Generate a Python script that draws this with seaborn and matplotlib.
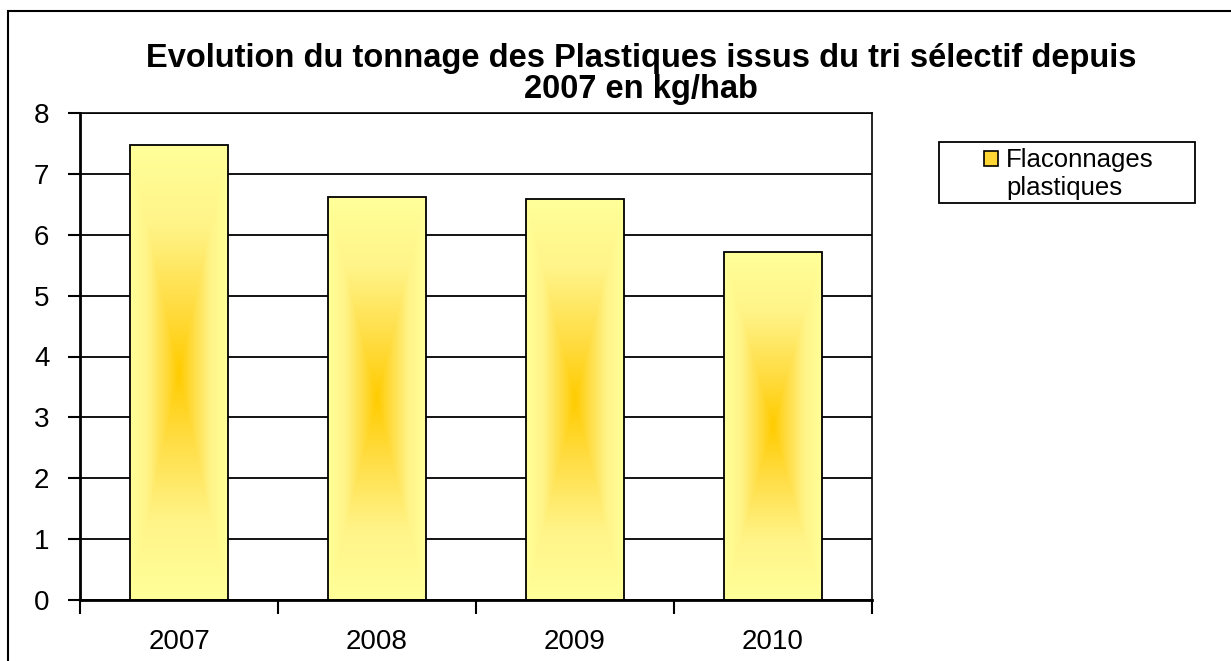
import numpy as np
import pandas as pd
import matplotlib
matplotlib.use("Agg")
import matplotlib.pyplot as plt
import seaborn as sns
from matplotlib.colors import LinearSegmentedColormap
from matplotlib.patches import Rectangle

years = ["2007", "2008", "2009", "2010"]
values = [7.47, 6.62, 6.58, 5.72]
legend_lines = ["Flaconnages", "plastiques"]
title = "Evolution du tonnage des Plastiques issus du tri sélectif depuis\n2007 en kg/hab"

sns.set_theme(style="white")
plt.rcParams['font.family'] = ['Liberation Sans', 'DejaVu Sans']
plt.rcParams['text.color'] = 'black'

W, H = 1231, 661
fig = plt.figure(figsize=(W / 100, H / 100), dpi=100)
ax = fig.add_axes([80 / W, 1 - 600 / H, (872 - 80) / W, (600 - 113) / H])

df = pd.DataFrame({"year": years, "value": values})
sns.barplot(data=df, x="year", y="value", ax=ax, width=0.49,
            color="#FFFF99", edgecolor="black", linewidth=1.3, zorder=3)

ax.set_ylim(0, 8)
ax.set_xlim(-0.5, 3.5)
ax.set_yticks(range(0, 9))
ax.set_xlabel("")
ax.set_ylabel("")
ax.yaxis.grid(True, color="black", linewidth=1.3, zorder=0)
ax.set_axisbelow(True)
for s in ["left", "bottom", "right", "top"]:
    ax.spines[s].set_visible(True)
    ax.spines[s].set_color("black")
ax.spines["left"].set_linewidth(2)
ax.spines["bottom"].set_linewidth(2)
ax.spines["right"].set_linewidth(1.2)
ax.spines["top"].set_linewidth(1.2)
ax.tick_params(axis="y", direction="out", length=9, width=1.5, labelsize=20, pad=13, colors="black", left=True)
ax.tick_params(axis="x", length=0, labelsize=20, pad=21, colors="black")
ax.set_xticks([-0.5, 0.5, 1.5, 2.5, 3.5], minor=True)
ax.tick_params(axis="x", which="minor", direction="out", length=10, width=1.5, bottom=True, colors="black")

# gradient fill inside each bar ("from center" style)
cmap = LinearSegmentedColormap.from_list(
    "g", [(0.0, "#FFCC00"), (0.3, "#FFDD44"), (0.65, "#FFF488"), (1.0, "#FFFF99")])
n = 200
yy, xx = np.mgrid[-1:1:n * 1j, -1:1:n * 1j]
t = np.maximum(np.abs(xx), np.abs(yy))
for p in ax.patches:
    x0, y0 = p.get_x(), p.get_y()
    w, h = p.get_width(), p.get_height()
    im = ax.imshow(t, cmap=cmap, extent=[x0, x0 + w, y0, y0 + h],
                   aspect="auto", origin="lower", zorder=2.5, vmin=0, vmax=1,
                   interpolation="bilinear")
    im.set_clip_path(p)
    p.set_facecolor("none")
ax.set_xlim(-0.5, 3.5)
ax.set_ylim(0, 8)

# legend (two rows: handle on the first row only)
h1 = Rectangle((0, 0), 1, 1, facecolor="#FFD633", edgecolor="black", linewidth=1.2)
h2 = Rectangle((0, 0), 1, 1, facecolor="none", edgecolor="none")
leg = fig.legend([h1, h2], legend_lines, loc="center",
                 bbox_to_anchor=(1069 / W, 1 - 174 / H), frameon=False,
                 fontsize=18.5, handlelength=0.55, handleheight=0.55,
                 handletextpad=0.3, borderpad=0.0, labelspacing=0.12)
fig.add_artist(Rectangle((939 / W, 1 - 203 / H), (1195 - 939) / W, (203 - 142) / H,
                         transform=fig.transFigure, fill=False,
                         edgecolor="black", linewidth=1.3))

fig.text(641 / W, 1 - 74 / H, title, ha="center", va="center",
         fontsize=23.5, fontweight="bold", linespacing=1.0, color="black")

# chart area border (left and top visible)
fig.add_artist(Rectangle((8 / W, -0.05), 1.1, 1.05 - 11 / H,
                         transform=fig.transFigure, fill=False,
                         edgecolor="black", linewidth=1.5))

fig.savefig("out.png", dpi=100)
